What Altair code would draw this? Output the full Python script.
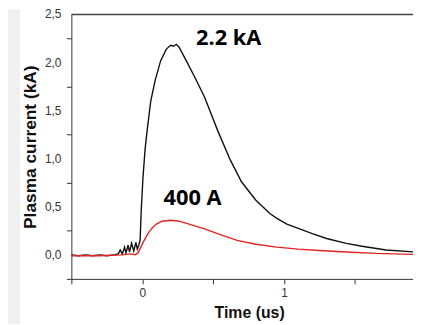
import altair as alt
import pandas as pd

# Black trace (2.2 kA)
black_t = [-0.5, -0.45, -0.4, -0.35, -0.3, -0.25, -0.2, -0.17, -0.155, -0.14, -0.125, -0.115,
           -0.1, -0.09, -0.075, -0.06, -0.045, -0.035, -0.025, -0.015, -0.007, 0.005, 0.02,
           0.035, 0.06, 0.09, 0.13, 0.17, 0.2, 0.22, 0.24, 0.26, 0.31, 0.37, 0.44, 0.53, 0.62,
           0.7, 0.8, 0.9, 0.95, 1.02, 1.11, 1.2, 1.3, 1.44, 1.55, 1.72, 1.92]
black_v = [0.0, -0.01, 0.0, -0.01, 0.0, -0.01, 0.0, 0.01, 0.05, 0.01, 0.08, 0.02,
           0.1, 0.03, 0.12, 0.04, 0.13, 0.06, 0.1, 0.15, 0.47, 0.8, 1.1,
           1.3, 1.6, 1.81, 2.02, 2.14, 2.18, 2.17, 2.19, 2.16, 2.02, 1.85, 1.64, 1.3, 0.99,
           0.76, 0.57, 0.43, 0.38, 0.32, 0.27, 0.22, 0.17, 0.12, 0.09, 0.05, 0.03]

# Red trace (400 A)
red_t = [-0.5, -0.3, -0.15, -0.08, -0.05, -0.03, -0.01, 0.01, 0.04, 0.07, 0.1, 0.14, 0.2, 0.26,
         0.33, 0.44, 0.55, 0.67, 0.8, 0.95, 1.1, 1.25, 1.44, 1.65, 1.92]
red_v = [-0.01, -0.01, 0.0, 0.01, 0.0, 0.02, 0.08, 0.14, 0.22, 0.28, 0.32, 0.35, 0.36, 0.35,
         0.32, 0.27, 0.21, 0.15, 0.11, 0.08, 0.06, 0.045, 0.03, 0.015, 0.005]

label_text = ["2.2 kA", "400 A"]
label_t = [0.61, 0.355]
label_v = [2.25, 0.59]

y_ticks = [-0.25, 0.0, 0.25, 0.5, 0.75, 1.0, 1.25, 1.5, 1.75, 2.0, 2.25, 2.5]
y_label_vals = [0.0, 0.5, 1.0, 1.5, 2.0, 2.5]
y_label_text = ["0,0", "0,5", "1,0", "1,5", "2,0", "2,5"]
x_ticks = [-0.5, 0.0, 0.5, 1.0, 1.5]

df = pd.concat([
    pd.DataFrame({"t": black_t, "v": black_v, "s": "black"}),
    pd.DataFrame({"t": red_t, "v": red_v, "s": "red"}),
])
lab = pd.DataFrame({"text": label_text, "t": label_t, "v": label_v})
ylab = pd.DataFrame({"v": y_label_vals, "text": y_label_text})

W, H = 345, 267
xs = alt.Scale(domain=[-0.5, 1.91], nice=False, zero=False)
ys = alt.Scale(domain=[-0.25, 2.5], nice=False, zero=False)

xaxis = alt.Axis(values=x_ticks, grid=False, domainColor="#333", tickColor="#333", tickSize=5,
                 labelColor="#333", labelFont="Liberation Sans", labelFontSize=12, labelPadding=4,
                 labelExpr="abs(datum.value - round(datum.value)) < 0.001 ? format(datum.value, 'd') : ''",
                 title="Time (us)", titleFont="Liberation Sans", titleFontSize=16, titleFontWeight="bold",
                 titleColor="#111", titlePadding=6, titleX=W / 2 + 7, titleAlign="center")
yaxis = alt.Axis(values=y_ticks, grid=False, domainColor="#333", tickColor="#333", tickSize=5,
                 labels=False,
                 title="Plasma current (kA)", titleFont="Liberation Sans", titleFontSize=17.5,
                 titleFontWeight="bold", titleColor="#111", titlePadding=27)

strip = alt.Chart(pd.DataFrame({"a": [0]})).mark_rect(color="#f0f0f0").encode(
    x=alt.value(-64), x2=alt.value(-52), y=alt.value(-5), y2=alt.value(H + 50))

lines = alt.Chart(df).mark_line(clip=True, strokeWidth=1.4).encode(
    x=alt.X("t:Q", scale=xs, axis=xaxis),
    y=alt.Y("v:Q", scale=ys, axis=yaxis),
    color=alt.Color("s:N", scale=alt.Scale(domain=["black", "red"], range=["#111111", "#e32222"]), legend=None),
    order=alt.Order("t:Q"),
)

ylabels = alt.Chart(ylab).mark_text(font="Liberation Sans", fontSize=12, color="#333",
                                    align="right", baseline="middle").encode(
    x=alt.value(-10), y=alt.Y("v:Q", scale=ys), text="text:N")

top = alt.Chart(pd.DataFrame({"a": [0]})).mark_rule(color="#444", strokeWidth=1.5).encode(
    y=alt.value(0), x=alt.value(0), x2=alt.value(W + 4))

texts = alt.Chart(lab).mark_text(font="Open Sans", fontWeight="bold", fontSize=22, color="#000",
                                 align="center", baseline="middle").encode(
    x=alt.X("t:Q", scale=xs), y=alt.Y("v:Q", scale=ys), text="text:N")

chart = alt.layer(strip, lines, ylabels, top, texts).properties(
    width=W, height=H,
    autosize=alt.AutoSizeParams(type="none"),
    padding={"left": 64, "top": 5, "right": 0, "bottom": 44},
).configure_view(stroke=None)

chart.save("out.html", embed_options={"renderer": "svg", "actions": False})
